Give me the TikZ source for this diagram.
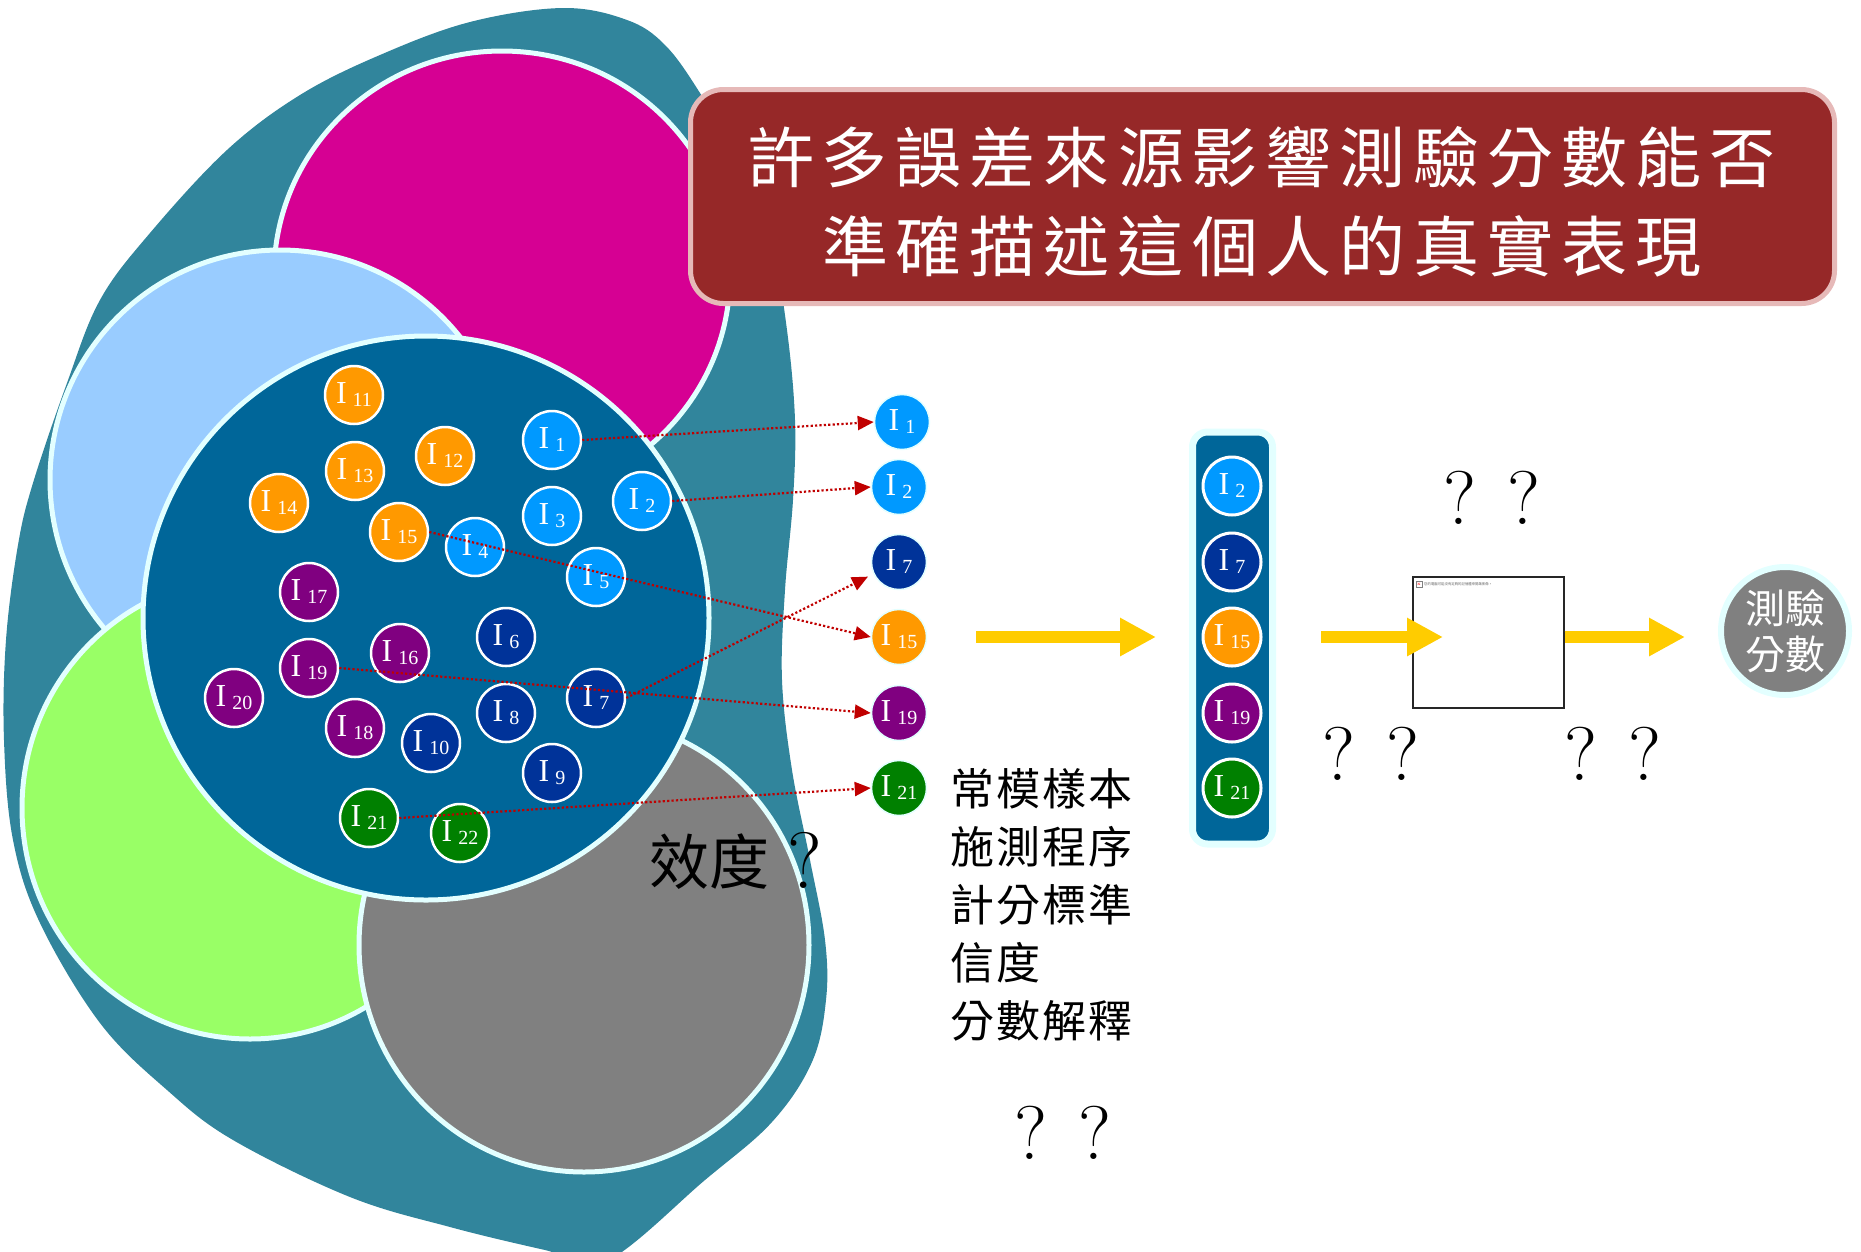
\documentclass[tikz,border=0pt]{standalone}
\usepackage{fontspec}
\newfontfamily\cjk{Noto Sans CJK TC}
\newfontfamily\timesf{Liberation Serif}
\usetikzlibrary{arrows.meta,shapes.geometric}
\definecolor{teal0}{HTML}{31859C}
\definecolor{magen}{HTML}{D60093}
\definecolor{lblue}{HTML}{99CCFF}
\definecolor{lgreen}{HTML}{99FF66}
\definecolor{gray0}{HTML}{808080}
\definecolor{dblue}{HTML}{006699}
\definecolor{edge0}{HTML}{E3FFFF}
\definecolor{cLB}{HTML}{0099FF}
\definecolor{cOR}{HTML}{FF9900}
\definecolor{cNV}{HTML}{003399}
\definecolor{cPU}{HTML}{800080}
\definecolor{cGR}{HTML}{008000}
\definecolor{titlered}{HTML}{962828}
\definecolor{titleedge}{HTML}{E6B9B8}
\definecolor{yel}{HTML}{FFCC00}
\definecolor{arrred}{HTML}{C00000}
\newdimen\lsdim
\def\spacedtext#1#2{\lsdim=#1\relax\spacedA#2\relax\unkern}
\def\spacedA#1{\ifx\relax#1\else#1\kern\lsdim\expandafter\spacedA\fi}
\newcommand\lab[1]{\fontsize{32}{32}\selectfont I\hspace{6pt}\raisebox{-3pt}{\fontsize{20}{20}\selectfont #1}}
\tikzset{
  bigedge/.style={draw=edge0, line width=5pt},
  itm/.style={circle, minimum size=58pt, inner sep=0pt, draw=white, line width=2.5pt, text=white, font=\timesf},
  itmr/.style={circle, minimum size=55pt, inner sep=0pt, draw=edge0, line width=1.5pt, text=white, font=\timesf},
  lb/.style={fill=cLB}, orr/.style={fill=cOR}, nv/.style={fill=cNV}, pu/.style={fill=cPU}, gr/.style={fill=cGR},
  redarr/.style={draw=arrred, line width=2.2pt, dash pattern=on 2.2pt off 2.2pt, -{Triangle[length=16pt,width=14pt]}},
  bigarr/.style={draw=yel, line width=12pt, -{Triangle[length=36pt,width=36pt]}},
  qm/.style={font=\fontsize{76}{76}\selectfont, anchor=base, inner sep=0pt},
}
\begin{document}
\begin{tikzpicture}[x=1pt,y=-1pt]
\useasboundingbox (0,0) rectangle (1861,1251);
% outer blob
\fill[teal0] plot[smooth cycle, tension=0.6] coordinates {
 (563,8) (627,20) (665,45) (700,93) (745,170) (772,245) (787,330) (795,420) (793,500)
 (785,590) (782,680) (792,770) (810,860) (825,940) (826,1000) (812,1062) (772,1122)
 (705,1180) (605,1262) (545,1250) (450,1227) (350,1197) (233,1140) (167,1090) (100,1023)
 (40,923) (13,840) (4,740) (6,640) (18,545) (33,483) (67,383) (100,300) (150,233)
 (227,150) (300,95) (380,55) (470,22)};
% big ellipses
\filldraw[fill=magen, bigedge] (502,275) ellipse [x radius=228pt, y radius=224pt];
\filldraw[fill=lblue, bigedge] (280,480) ellipse [x radius=230pt, y radius=230pt];
\filldraw[fill=lgreen, bigedge] (250,808) ellipse [x radius=228pt, y radius=231pt];
\filldraw[fill=gray0, bigedge] (584,945) ellipse [x radius=225pt, y radius=227pt];
\filldraw[fill=dblue, bigedge] (426,618) ellipse [x radius=283pt, y radius=282pt];
% title
\node[draw=titleedge, fill=titlered, line width=5pt, rounded corners=33pt, minimum width=1144pt, minimum height=214pt] (titlebox) at (1262.5,196.5) {};
\node[font=\cjk\fontsize{66}{89}\selectfont, text=white, align=center, inner sep=0pt] (title) at (1262,202)
 {\spacedtext{8pt}{許多誤差來源影響測驗分數能否}\\\spacedtext{8pt}{準確描述這個人的真實表現}};
% inner items
\node[itm,lb] (I1) at (552,440) {\lab{1}};
\node[itm,lb] (I2) at (642,501) {\lab{2}};
\node[itm,lb] (I3) at (552,516) {\lab{3}};
\node[itm,lb] (I4) at (475,547) {\lab{4}};
\node[itm,lb] (I5) at (596,577) {\lab{5}};
\node[itm,nv] (I6) at (506,637) {\lab{6}};
\node[itm,nv] (I7) at (596,698) {\lab{7}};
\node[itm,nv] (I8) at (506,713) {\lab{8}};
\node[itm,nv] (I9) at (552,773) {\lab{9}};
\node[itm,nv] (I10) at (431,743) {\lab{10}};
\node[itm,orr] (I11) at (354,395) {\lab{11}};
\node[itm,orr] (I12) at (445,456) {\lab{12}};
\node[itm,orr] (I13) at (355,471) {\lab{13}};
\node[itm,orr] (I14) at (279,503) {\lab{14}};
\node[itm,orr] (I15) at (399,532) {\lab{15}};
\node[itm,pu] (I16) at (400,653) {\lab{16}};
\node[itm,pu] (I17) at (309,592) {\lab{17}};
\node[itm,pu] (I18) at (355,728) {\lab{18}};
\node[itm,pu] (I19) at (309,668) {\lab{19}};
\node[itm,pu] (I20) at (234,698) {\lab{20}};
\node[itm,gr] (I21) at (369,818) {\lab{21}};
\node[itm,gr] (I22) at (460,833) {\lab{22}};
% selected items
\node[itmr,lb] (R1) at (902,422) {\lab{1}};
\node[itmr,lb] (R2) at (899,487) {\lab{2}};
\node[itmr,nv] (R7) at (899,562) {\lab{7}};
\node[itmr,orr] (R15) at (899,637) {\lab{15}};
\node[itmr,pu] (R19) at (899,713) {\lab{19}};
\node[itmr,gr] (R21) at (899,788) {\lab{21}};
% column
\node[draw=edge0, fill=dblue, line width=7pt, rounded corners=15pt, minimum width=80pt, minimum height=412pt] (col) at (1232.5,638) {};
\node[itm,lb,line width=3pt] (C2) at (1232,486) {\lab{2}};
\node[itm,nv,line width=3pt] (C7) at (1232,562) {\lab{7}};
\node[itm,orr,line width=3pt] (C15) at (1232,637) {\lab{15}};
\node[itm,pu,line width=3pt] (C19) at (1232,713) {\lab{19}};
\node[itm,gr,line width=3pt] (C21) at (1232,788) {\lab{21}};
% blank picture box
\node[draw=black!85, line width=1.3pt, fill=white, minimum width=151pt, minimum height=131pt, inner sep=0pt] (blank) at (1488.5,642.5) {};
\node[draw=black!50, fill=white, line width=0.6pt, minimum size=6pt, inner sep=0pt, text=red, font=\fontsize{5}{5}\selectfont] (icon) at (1419,584) {x};
\node[anchor=west, inner sep=0pt, text=black!60, font=\cjk\fontsize{3.4}{4}\selectfont] (icontext) at (1424,584) {您的電腦可能沒有足夠的記憶體來開啟影像。};
% score circle
\node[circle, fill=gray0, draw=edge0, line width=6pt, minimum size=128pt, inner sep=0pt, text=white, align=center, font=\cjk\fontsize{40}{46}\selectfont] (score) at (1785,631) {測驗\\分數};
% yellow arrows
\coordinate (a1s) at (976,637);
\coordinate (a1e) at (1156,637);
\coordinate (a2s) at (1321,637);
\coordinate (a2e) at (1443,637);
\coordinate (a3e) at (1685,637);
\draw[bigarr] (a1s) -- (a1e);
\draw[bigarr] (a2s) -- (a2e);
\draw[bigarr] (blank.east |- a3e) -- (a3e);
% red dotted arrows
\draw[redarr] (I1.east) -- (R1.west);
\draw[redarr] (I2.east) -- (R2.west);
\draw[redarr] (I15.east) -- (R15.west);
\draw[redarr] (I19.east) -- (R19.west);
\draw[redarr, shorten >=6pt] (I7.east) -- (R7.205);
\draw[redarr] (I21.east) -- (R21.west);
% texts
\node[font=\cjk\fontsize{44}{58}\selectfont, align=left, anchor=west, inner sep=0pt] (list) at (950,905)
 {\spacedtext{2pt}{常模樣本}\\\spacedtext{2pt}{施測程序}\\\spacedtext{2pt}{計分標準}\\\spacedtext{2pt}{信度}\\\spacedtext{2pt}{分數解釋}};
\node[font=\cjk\fontsize{60}{60}\selectfont, anchor=base, inner sep=0pt] (eff) at (709,884) {效度};
\node[qm, font=\fontsize{80}{80}\selectfont] (effq) at (805,888) {?};
\node[qm] (q1) at (1460,524) {?};
\node[qm] (q2) at (1524,524) {?};
\node[qm] (q3) at (1339,780) {?};
\node[qm] (q4) at (1403,780) {?};
\node[qm] (q5) at (1581,780) {?};
\node[qm] (q6) at (1645,780) {?};
\node[qm] (q7) at (1031,1159) {?};
\node[qm] (q8) at (1095,1159) {?};
\end{tikzpicture}
\end{document}
